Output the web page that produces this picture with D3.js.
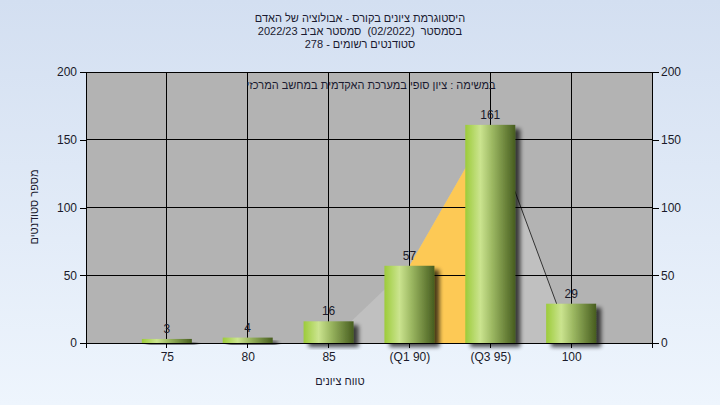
<!DOCTYPE html>
<html><head><meta charset="utf-8">
<script src="https://cdn.jsdelivr.net/npm/d3@7"></script>
<style>
html,body{margin:0;padding:0;}
svg{display:block;font-family:"Liberation Sans",Arial,sans-serif;}
</style></head>
<body><svg id="c" width="720" height="405"></svg>
<script>
const titleLines = ["היסטוגרמת ציונים בקורס - אבולוציה של האדם", "בסמסטר  (02/2022)  סמסטר אביב 2022/23", "סטודנטים רשומים - 278"];
const subtitle = "במשימה : ציון סופי במערכת האקדמית במחשב המרכזי";
const yTitle = "מספר סטודנטים";
const xTitle = "טווח ציונים";
const categories = ["75", "80", "85", "(Q1 90)", "(Q3 95)", "100"];
const counts = [3, 4, 16, 57, 161, 29];
const yTicks = [0, 50, 100, 150, 200];
const areaCats = ["85", "(Q1 90)", "(Q3 95)", "100"];
const areaValues = [0, 57, 161, 0];
const q1Cat = "(Q1 90)", q3Cat = "(Q3 95)";

const svg = d3.select("#c");
const L = 86, R = 652, T = 72, B = 343;
const defs = svg.append("defs");

const bg = defs.append("linearGradient").attr("id","bg").attr("x1",0).attr("y1",0).attr("x2",0).attr("y2",1);
bg.append("stop").attr("offset","0%").attr("stop-color","#d3dff1");
bg.append("stop").attr("offset","100%").attr("stop-color","#eef5fd");

const bar = defs.append("linearGradient").attr("id","bar").attr("x1",0).attr("y1",0).attr("x2",1).attr("y2",0);
[["0%","#9ccb3a"],["30%","#cbe48f"],["55%","#9ab660"],["100%","#475d1f"]].forEach(s=>bar.append("stop").attr("offset",s[0]).attr("stop-color",s[1]));

const sh = defs.append("filter").attr("id","sh").attr("x","-20%").attr("y","-20%").attr("width","150%").attr("height","150%");
sh.append("feGaussianBlur").attr("in","SourceAlpha").attr("stdDeviation",2).attr("result","b");
sh.append("feOffset").attr("in","b").attr("dx",5).attr("dy",4).attr("result","o");
sh.append("feComponentTransfer").attr("in","o").attr("result","o2").append("feFuncA").attr("type","linear").attr("slope",0.7);
const m = sh.append("feMerge"); m.append("feMergeNode").attr("in","o2"); m.append("feMergeNode").attr("in","SourceGraphic");

svg.append("rect").attr("width",720).attr("height",405).attr("fill","url(#bg)");

const x = d3.scalePoint().domain(categories).range([L,R]).padding(1);
const y = d3.scaleLinear().domain([0,200]).range([B,T]);

svg.append("rect").attr("x",L).attr("y",T).attr("width",R-L).attr("height",B-T).attr("fill","#b3b3b3");

// area
const area = d3.area().x(d=>x(d[0])).y0(y(0)).y1(d=>y(d[1]));
const pts = areaCats.map((c,i)=>[c,areaValues[i]]);
svg.append("path").attr("d",area(pts)).attr("fill","#c0c0c0");
const qi = areaCats.indexOf(q1Cat), qj = areaCats.indexOf(q3Cat);
svg.append("path").attr("d",area(pts.slice(qi,qj+1))).attr("fill","#fdc955");
svg.append("path").attr("d",d3.line().x(d=>x(d[0])).y(d=>y(d[1]))(pts.slice(qj))).attr("fill","none").attr("stroke","#333").attr("stroke-width",1);

// grid
const g = svg.append("g").attr("stroke","#000").attr("stroke-width",1).attr("shape-rendering","crispEdges");
yTicks.forEach(t=>g.append("line").attr("x1",L).attr("x2",R).attr("y1",y(t)).attr("y2",y(t)));
categories.forEach(c=>g.append("line").attr("x1",x(c)).attr("x2",x(c)).attr("y1",T).attr("y2",B+5));
[L,R].forEach(v=>g.append("line").attr("x1",v).attr("x2",v).attr("y1",T).attr("y2",B+5));

// bars
const bw = 50;
svg.append("g").selectAll("rect").data(counts).join("rect")
  .attr("x",(d,i)=>x(categories[i])-bw/2).attr("width",bw)
  .attr("y",d=>y(d)).attr("height",d=>y(0)-y(d))
  .attr("fill","url(#bar)").attr("filter","url(#sh)");

// value labels
svg.append("g").selectAll("text").data(counts).join("text")
  .attr("x",(d,i)=>x(categories[i])).attr("y",d=>y(d)-6)
  .attr("text-anchor","middle").attr("font-size",12).attr("fill","#1a1a2a").text(d=>d);

// axes
const ax = svg.append("g").attr("transform",`translate(${L},0)`).call(d3.axisLeft(y).tickValues(yTicks).tickSize(6).tickPadding(3));
const ax2 = svg.append("g").attr("transform",`translate(${R},0)`).call(d3.axisRight(y).tickValues(yTicks).tickSize(7).tickPadding(2));
[ax,ax2].forEach(a=>{a.select(".domain").remove(); a.selectAll("line").attr("stroke","#000").attr("shape-rendering","crispEdges");
  a.selectAll("text").attr("font-size",12).attr("fill","#1a1a2a").attr("font-family","Liberation Sans, Arial, sans-serif");});
const axb = svg.append("g").attr("transform",`translate(0,${B})`).call(d3.axisBottom(x).tickSize(0).tickPadding(9));
axb.select(".domain").remove();
axb.selectAll("text").attr("font-size",12).attr("fill","#1a1a2a").attr("font-family","Liberation Sans, Arial, sans-serif");

// titles
svg.append("g").selectAll("text").data(titleLines).join("text")
  .attr("x",360).attr("y",(d,i)=>22+i*13).attr("text-anchor","middle").attr("font-size",11).attr("fill","#1a1a30")
  .style("white-space","pre").attr("xml:space","preserve").text(d=>d);
svg.append("text").attr("x",371).attr("y",89).attr("text-anchor","middle").attr("font-size",11).attr("fill","#1a1a30").text(subtitle);
svg.append("text").attr("transform","translate(38,207) rotate(-90)").attr("text-anchor","middle").attr("font-size",11).attr("fill","#1a1a30").text(yTitle);
svg.append("text").attr("x",340).attr("y",385).attr("text-anchor","middle").attr("font-size",11).attr("fill","#1a1a30").text(xTitle);
</script></body></html>
